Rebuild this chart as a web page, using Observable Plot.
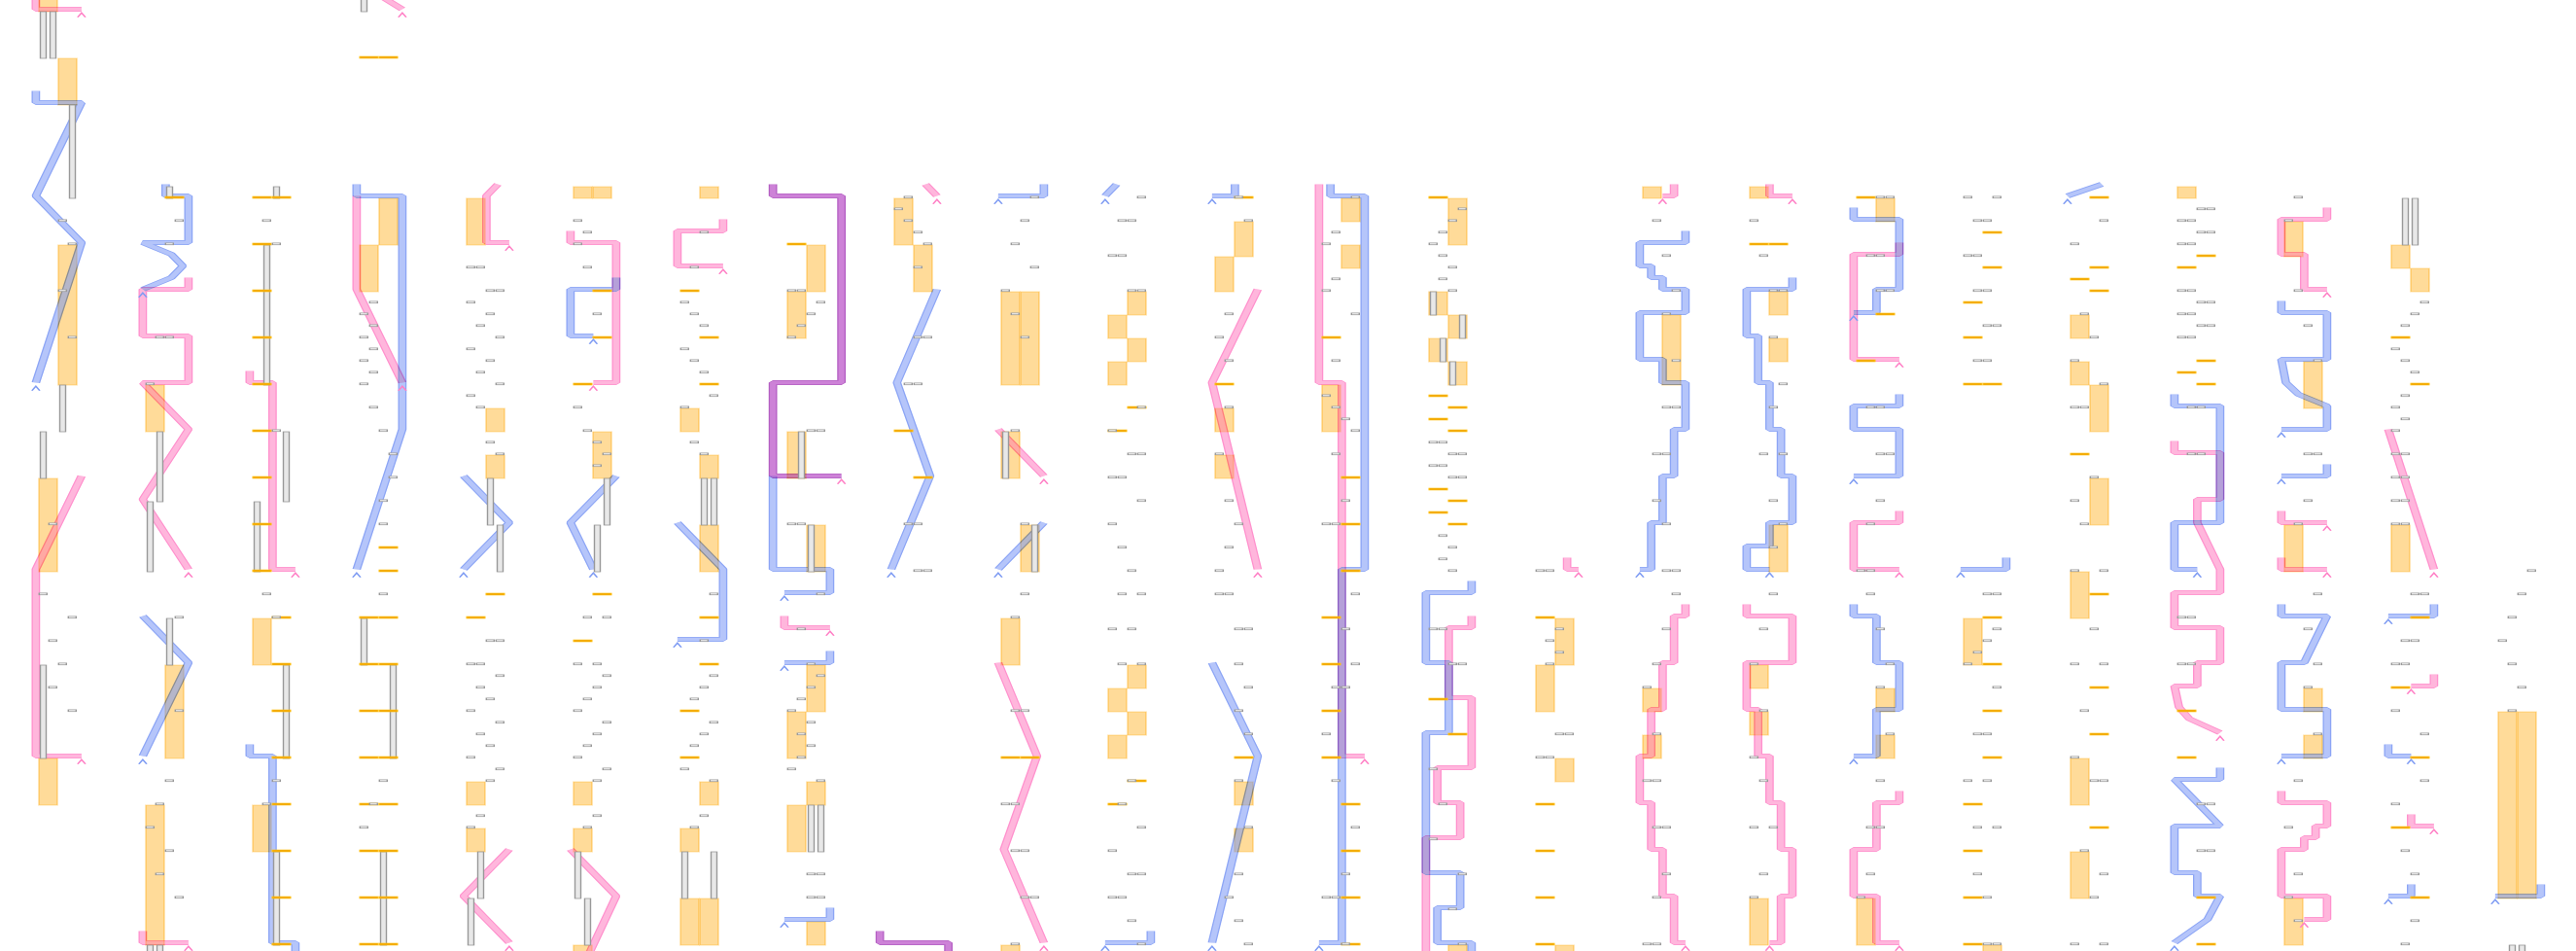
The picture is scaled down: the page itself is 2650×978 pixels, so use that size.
<!DOCTYPE html>
<html><head><meta charset="utf-8">
<script src="https://cdn.jsdelivr.net/npm/d3@7"></script>
<script src="https://cdn.jsdelivr.net/npm/@observablehq/plot@0.6"></script>
<style>html,body{margin:0;padding:0;background:#fff}#chart svg{display:block}</style>
</head><body><div id="chart"></div>
<script>
// ---- data: panel | lane,row pairs (lane 0..4, row in 12px grid units) ----
const pinkPaths = [
"0|0,-1 0,1 4,1","0|4,41 0,49 0,65 4,65",
"1|4,24 4,25 0,25 0,29 4,29 4,33 0,33 4,37 0,43 4,49","1|0,80 0,81 4,81",
"2|0,32 0,33 2,33 2,49 4,49",
"3|0,-1.4 4,1","3|0,17 0,25 4,33",
"4|3,16 2,17 2,21 4,21","4|4,73 0,77 4,81",
"5|0,20 0,21 4,21 4,33 2,33","5|0,73 4,77 1.6,82",
"6|4,19 4,20 0,20 0,23 4,23",
"7|0,53 0,54 4,54",
"8|3,16 4,17",
"9|0,37 4,41","9|0,57 3.4,65 0.5,73 4,81",
"11|4,25 0,33 4,49",
"12|0,16 0,33 2,33 2,65 4,65",
"13|4,53 4,54 2,54 2,60 4,60 4,66 1,66 1,69 3,69 3,72 0,72 0,83",
"14|3,48 3,49 4,49",
"15|3,16 3,17 2,17","15|4,52 4,53 3,53 3,57 2,57 2,61 1,61 1,65 0,65 0,69 1,69 1,73 2,73 2,77 3,77 3,81 4,81",
"16|2,16 2,17 4,17","16|0,52 0,53 4,53 4,57 0,57 0,61 1,61 1,65 2,65 2,69 3,69 3,73 4,73 4,77 3,77 3,81 2,81",
"17|4,21 4,22 0,22 0,31 4,31","17|4,44 4,45 0,45 0,49 4,49","17|4,68 4,69 2,69 2,73 0,73 0,77 2,77 2,81 4,81",
"20|0,38 0,39 4,39 4,43 2,43 2,45 4,49 4,51 0,51 0,54 4,54 4,57 2,57 2,59 0,59 0.4,60.8 1.3,61.8 4,63",
"21|4,18 4,19 0,19 0,22 2,22 2,25 4,25","21|0,44 0,45 4,45","21|0,48 0,49 4,49",
"21|0,68 0,69 4,69 4,71 3,71 3,72 2,72 2,73 0,73 0,77 4,77 4,79 2,79",
"22|0,37 4,49","22|4,58 4,59 2,59","22|2,70 2,71 4,71"
];
const bluePaths = [
"0|0,8 0,9 4,9 0,17 4,21 0,33",
"1|2,16 2,17 4,17 4,21 0,21 2.5,22 3.5,23 2.5,24 0,25","1|0,53 4,57 0,65",
"2|0,64 0,65 2,65 2,81 4,81 4,83",
"3|0,16 0,17 4,17 4,37 0,49",
"4|0,41 4,45 0,49",
"5|4,24 4,25 0,25 0,29 2,29","5|4,41 0,45 2,49",
"6|0,45 4,49 4,55 0,55",
"7|-1,41 -1,49 4,49 4,51 0,51","7|4,56 4,57 0,57","7|4,78 4,79 0,79",
"8|4,25 0.5,33 3.4,41 0,49",
"9|4,16 4,17 0,17","9|4,45 0,49",
"10|1,16 0,17","10|4,80 4,81 0,81",
"11|2,16 2,17 0,17","11|0,57 4,65 0,81",
"12|1,16 1,17 4,17 4,49 2,49 2,81 0,81",
"13|4,50 4,51 0,51 0,57 2,57 2,63 0,63 0,75 3,75 3,78 1,78 1,81 4,81 4,83",
"15|4,20 4,21 0,21 0,23 1,23 1,24 2,24 2,25 4,25 4,27 0,27 0,31 2,31 2,33 4,33 4,37 3,37 3,41 2,41 2,45 1,45 1,49 0,49",
"16|4,24 4,25 0,25 0,29 1,29 1,33 2,33 2,37 3,37 3,41 4,41 4,45 2,45 2,47 0,47 0,49 2,49",
"17|0,18 0,19 4,19 4,25 2,25 2,27 0,27","17|4,34 4,35 0,35 0,37 4,37 4,41 0,41","17|0,52 0,53 2,53 2,57 4,57 4,61 2,61 2,65 0,65",
"18|4,48 4,49 0,49",
"19|3,16 0,17",
"20|0,34 0,35 4,35 4,45 0,45 0,49 2,49","20|4,66 4,67 0,67 4,71 0,71 0,75 2,75 2,77 4,77 2.9,79 0,81",
"21|0,26 0,27 4,27 4,31 0,31 0.4,33 1.5,34 4,35 4,37 0,37","21|4,40 4,41 0,41","21|0,52 0,53 4,53 2,57 0,57 0,61 4,61 4,65 0,65",
"22|4,52 4,53 0,53","22|0,64 0,65 2,65","22|2,76 2,77 0,77",
"23|4,76 4,77 0,77"
];
// both series on the same path (drawn purple)
const bothPaths = [
"7|-1,16 -1,17 5,17 5,33 -1,33 -1,41 5,41",
"8|-1,80 -1,81 5,81 5,83"
];
// [panel, cell (0 = left, 1 = right), rowFrom, rowTo]
const orangeBars = [
[0,0,-2,1],[0,1,5,9],[0,1,21,33],[0,0,41,49],[0,0,65,69],
[1,0,33,37],[1,1,57,65],[1,0,69,81],
[2,0,53,57],[2,0,69,73],
[3,1,17,21],[3,0,21,25],
[4,0,17,21],[4,1,35,37],[4,1,39,41],[4,0,67,69],[4,0,71,73],
[5,0,16,17],[5,1,16,17],[5,1,37,41],[5,0,67,69],[5,0,71,73],[5,0,81,82],
[6,1,16,17],[6,0,35,37],[6,1,39,41],[6,1,45,49],[6,1,67,69],[6,0,71,73],[6,0,77,81],[6,1,77,81],
[7,1,21,25],[7,0,25,29],[7,0,37,41],[7,1,45,49],[7,1,57,61],[7,0,61,65],[7,1,67,69],[7,0,69,73],[7,1,79,81],
[8,0,17,21],[8,1,21,25],
[9,0,25,33],[9,1,25,33],[9,0,37,41],[9,1,45,49],[9,0,53,57],[9,0,81,82],
[10,1,25,27],[10,0,27,29],[10,1,29,31],[10,0,31,33],[10,1,57,59],[10,0,59,61],[10,1,61,63],[10,0,63,65],
[11,1,19,22],[11,0,22,25],[11,0,35,37],[11,0,39,41],[11,1,67,69],[11,1,71,73],
[12,1,17,19],[12,1,21,23],[12,0,33,37],
[13,1,17,21],[13,0,25,27],[13,1,27,29],[13,0,29,31],[13,1,31,33],[13,1,81,82],
[14,1,53,57],[14,0,57,61],[14,1,65,67],[14,1,81,82],
[15,0,16,17],[15,1,27,33],[15,0,59,61],[15,0,63,65],
[16,0,16,17],[16,1,25,27],[16,1,29,31],[16,1,45,49],[16,0,57,59],[16,0,61,63],[16,0,77,81],
[17,1,17,19],[17,1,59,61],[17,1,63,65],[17,0,77,81],
[18,0,53,57],[18,1,81,82],
[19,0,27,29],[19,0,31,33],[19,1,33,37],[19,1,41,45],[19,0,49,53],[19,0,65,69],[19,0,73,77],
[20,0,16,17],
[21,0,19,22],[21,1,31,35],[21,0,45,49],[21,1,59,61],[21,1,63,65],[21,0,77,81],
[22,0,21,23],[22,1,23,25],[22,0,45,49],
[23,0,61,77],[23,1,61,77]
];
// [panel, slot 0..3, rowFrom, rowTo]
const grayBars = [
[0,0,1,5],[0,1,1,5],[0,3,9,17],[0,2,33,37],[0,0,37,41],[0,0,57,65],
[1,2,16,17],[1,1,37,43],[1,0,43,49],[1,2,53,57],[1,0,81,82],[1,1,81,82],
[2,2,16,17],[2,1,21,33],[2,3,37,43],[2,0,43,49],[2,3,57,65],[2,2,73,81],
[3,0,-1,1],[3,0,53,57],[3,3,57,65],[3,2,73,81],
[4,2,41,45],[4,3,45,49],[4,1,73,77],[4,0,77,81],
[5,3,41,45],[5,2,45,49],[5,0,73,77],[5,1,77,81],
[6,2,41,45],[6,3,41,45],[6,0,73,77],[6,3,73,77],
[7,1,37,41],[7,2,45,49],[7,2,69,73],[7,3,69,73],
[9,0,37,41],[9,3,45,49],
[13,0,25,27],[13,3,27,29],[13,1,29,31],[13,2,31,33],
[22,1,17,21],[22,2,17,21],
[23,1,81,82],[23,2,81,82]
];
// panel | cell A/B : rows
const ticks = [
"1|B:17",
"2|A:17,21,25,29,33,37,41,45,49 B:17,53,57,61,65,69,73,77,81",
"3|A:5,53,57,61,65,69,73,77,81 B:5,47,49,53,57,61,65,69,73,77,81",
"4|A:53 B:51","5|A:33,55 B:25,29,51","6|A:25,61,65 B:29,33,53,57","7|A:21",
"8|A:37 B:41","9|A:65 B:65","10|A:37,69 B:35,67","11|A:33 B:17,65",
"12|A:29,53,57,61,65 B:41,45,49,69,73,77,81",
"13|A:17,34,36,42,44,60 B:35,37,43,45,63",
"14|A:53,69,73,77,81","16|A:21 B:21","17|A:17,31 B:27",
"18|A:26,29,33,69,73,77,81 B:20,23,33,53,57,61,65",
"19|A:24,39 B:17,23,25,51,59,63,71",
"20|A:23,32,61,65 B:22,31,33,77,81",
"22|A:29,59,71 B:33,53,65,77"
];
// panel | row:slots
const boxes = [
"0|19:2 21:3 25:2 29:3 45:1 51:0 53:3 55:1 57:2 59:1 61:3",
"1|19:3 21:2 29:12 33:0 53:3 61:3 67:2 69:1 71:0 73:2 75:1 77:3",
"2|19:1 21:2 37:2 51:1 53:2 67:2 69:1",
"3|26:1 27:0 28:1 29:0 30:1 31:0 32:1 33:0 35:1 37:2 39:3 41:3 43:2 45:2 51:2 67:2 69:1 71:0",
"4|23:01 25:23 26:0 27:2 28:1 29:3 30:0 31:2 32:1 33:3 34:0 35:1 38:2 39:3 55:23 57:01 58:3 59:1 60:2 61:0 62:3 63:1 64:2 65:0 66:3 67:2 70:1 71:0",
"5|19:0 20:1 21:0 23:1 27:2 35:0 37:1 38:2 39:3 40:2 53:13 57:02 58:3 59:2 60:1 61:0 62:3 63:2 64:1 65:0 66:3 67:2 70:2 71:1",
"6|20:2 23:1 26:0 27:1 28:2 30:0 31:1 32:2 34:3 35:0 38:1 39:2 51:3 55:2 58:3 59:2 60:1 62:3 63:2 64:1 66:0 67:3 70:2 71:1",
"7|25:01 26:3 27:2 28:1 29:0 37:23 45:01 51:3 54:1 57:2 58:3 59:2 60:1 61:0 62:2 63:1 64:2 65:1 66:0 67:3 75:23 77:23",
"8|17:1 18:0 19:1 20:2 21:3 23:2 29:23 33:12 45:12 49:23",
"9|17:3 19:2 21:1 23:3 25:0 27:1 29:2 37:1 45:2 51:2 53:1 61:12 69:01 73:12 77:23 81:1",
"10|17:3 19:12 22:01 25:23 35:3 37:0 39:23 41:01 43:3 45:0 47:1 49:2 51:13 54:02 57:13 67:2 69:1 71:3 73:0 75:23 77:01 79:2 81:3",
"11|17:2 19:3 27:1 29:0 31:1 35:1 39:0 43:1 45:2 47:1 49:0 51:01 54:23 57:2 59:3 61:2 63:3 67:2 71:3 75:2 77:1 79:2 81:3",
"12|17:3 20:1 21:0 24:1 25:0 27:3 31:1 34:0 35:1 36:2 37:3 39:1 43:2 45:01 51:3 54:2 57:3 59:12 63:0 67:1 71:3 75:2 77:01 81:2",
"13|18:3 19:2 20:1 21:0 22:1 23:2 24:1 25:2 38:01 39:23 40:01 41:23 46:1 47:2 48:1 49:2 54:01 57:23 66:0 69:1 72:0 75:3 78:2 81:3",
"14|49:01 54:2 55:1 56:2 57:1 63:23 65:01",
"15|19:1 22:2 25:3 27:2 31:3 35:23 39:12 43:1 45:2 49:23 51:3 54:2 57:1 59:0 63:1 67:01 71:12 75:2 77:1 81:01",
"16|19:0 22:1 25:23 29:2 33:3 35:2 39:13 43:2 45:3 47:2 51:2 54:1 57:0 61:1 65:0 67:1 71:02 75:1 77:0",
"17|17:23 22:12 25:23 35:12 39:23 43:2 45:1 49:01 51:1 54:2 57:3 59:2 63:3 67:2 71:12 75:1 77:0",
"18|17:03 19:12 22:01 25:12 28:23 31:12 51:23 54:3 55:2 56:1 57:0 59:3 63:12 67:02 71:13 75:1 77:2 81:23",
"19|19:3 21:0 27:1 29:2 31:0 33:3 35:01 41:2 43:0 45:1 49:03 54:2 57:03 61:1 65:0 67:23 73:1 75:3 77:2 81:03",
"20|18:23 19:01 20:23 21:01 25:01 26:23 27:01 28:23 29:01 35:12 39:12 53:01 57:01 69:23 73:23",
"21|17:1 19:0 25:1 28:2 31:3 39:23 43:2 45:1 51:3 54:2 57:3 59:2 63:3 67:1 71:0 75:1 77:0 79:1",
"22|26:3 27:2 28:1 30:0 31:1 32:2 34:1 35:0 36:1 37:0 39:01 41:01 43:01 45:01 51:23 55:12 57:01 61:0 63:3 67:3 69:0 73:1 75:2 79:2 81:1",
"23|49:3 51:2 53:1 55:0 57:1 59:2 61:1"
];

// ---- build tables ----
function parsePaths(arr, tag) {
  const out = [];
  arr.forEach((s, i) => {
    const [p, pts] = s.split("|");
    pts.trim().split(/\s+/).forEach(t => {
      const [v, j] = t.split(",").map(Number);
      out.push({id: tag + i, panel: +p, v, j});
    });
  });
  return out;
}
const lastPoints = rows => Array.from(d3.group(rows, d => d.id).values(), g => g[g.length - 1]);
const pinkPts = parsePaths(pinkPaths, "p");
const bluePts = parsePaths(bluePaths, "b");
const bothPts = parsePaths(bothPaths, "m");
const tickRows = [];
ticks.forEach(s => {
  const [p, rest] = s.split("|");
  rest.trim().split(/\s+/).forEach(part => {
    const [c, list] = part.split(":");
    list.split(",").forEach(j => tickRows.push({panel: +p, cell: c === "A" ? 0 : 1, j: +j}));
  });
});
const boxRows = [];
boxes.forEach(s => {
  const [p, rest] = s.split("|");
  rest.trim().split(/\s+/).forEach(part => {
    const [j, slots] = part.split(":");
    for (const c of slots) boxRows.push({panel: +p, slot: +c, j: +j});
  });
});

// ---- layout ----
const SX = 1.75, W = 2650, H = 978, W0 = Math.round(W / SX);
const PX = 110, X0 = 32;
const X = (panel, off) => panel + off / PX;
const lane = d => X(d.panel, 4 + 11.75 * d.v);
const chevron = {draw(ctx, size) { const h = Math.sqrt(size / Math.PI); ctx.moveTo(-h, h); ctx.lineTo(0, -h); ctx.lineTo(h, h); }};
// ribbon = darker edge (multiply) + lightened core (screen)
function ribbon(data, edge, core) {
  const base = {x: lane, y: "j", z: "id", dy: -3, strokeLinecap: "butt", strokeLinejoin: "miter"};
  return [
    Plot.line(data, {...base, stroke: edge, strokeWidth: 5, mixBlendMode: "multiply"}),
    Plot.line(data, {...base, stroke: core, strokeWidth: 3.5, mixBlendMode: "screen"})
  ];
}

const svg = Plot.plot({
  width: W0, height: H, margin: 0,
  x: {domain: [-X0 / PX, (W - X0) / PX], range: [0, W0], axis: null},
  y: {domain: [0, H / 12], range: [0, H], axis: null},
  marks: [
    Plot.rect(orangeBars, {x1: d => X(d[0], 8 + 20 * d[1]), x2: d => X(d[0], 27 + 20 * d[1]),
      y1: d => d[2], y2: d => d[3], fill: "#ffa500", fillOpacity: 0.4, stroke: "#ffa500", strokeOpacity: 0.35, strokeWidth: 1}),
    ...ribbon(bluePts, "#8ca5f5", "#5a5a80"),
    ...ribbon(pinkPts, "#ff91cd", "#00564d"),
    ...ribbon(bothPts, "#b45fc3", "#553855"),
    Plot.rect(grayBars, {x1: d => X(d[0], 9.5 + 10 * d[1]), x2: d => X(d[0], 15.5 + 10 * d[1]),
      y1: d => d[2], y2: d => d[3], fill: "#e8e8e8", stroke: "#999", strokeWidth: 0.8}),
    Plot.rect(tickRows, {x1: d => X(d.panel, 8 + 20 * d.cell), x2: d => X(d.panel, 27 + 20 * d.cell),
      y1: d => d.j - 2 / 12, y2: d => d.j, fill: "#f0a400", stroke: "#ffc21a", strokeWidth: 0.6}),
    Plot.rect(boxRows, {x1: d => X(d.panel, 8.3 + 10 * d.slot), x2: d => X(d.panel, 16.3 + 10 * d.slot),
      y1: d => d.j - 2.1 / 12, y2: d => d.j - 0.3 / 12, fill: "white", stroke: "#9a9a9a", strokeWidth: 0.8}),
    Plot.dot(lastPoints(bluePts), {x: lane, y: d => d.j + 0.25, symbol: chevron, r: 2.3, stroke: "#7f9cf3", strokeWidth: 1, fill: "none"}),
    Plot.dot(lastPoints(pinkPts.concat(bothPts)), {x: lane, y: d => d.j + 0.25, symbol: chevron, r: 2.3, stroke: "#ff80c6", strokeWidth: 1, fill: "none"})
  ]
});
svg.setAttribute("width", W);
svg.setAttribute("height", H);
svg.setAttribute("viewBox", `0 0 ${W0} ${H}`);
svg.setAttribute("preserveAspectRatio", "none");
svg.style.maxWidth = "none";
svg.style.width = W + "px";
svg.style.height = H + "px";
document.getElementById("chart").appendChild(svg);
</script>
</body></html>
